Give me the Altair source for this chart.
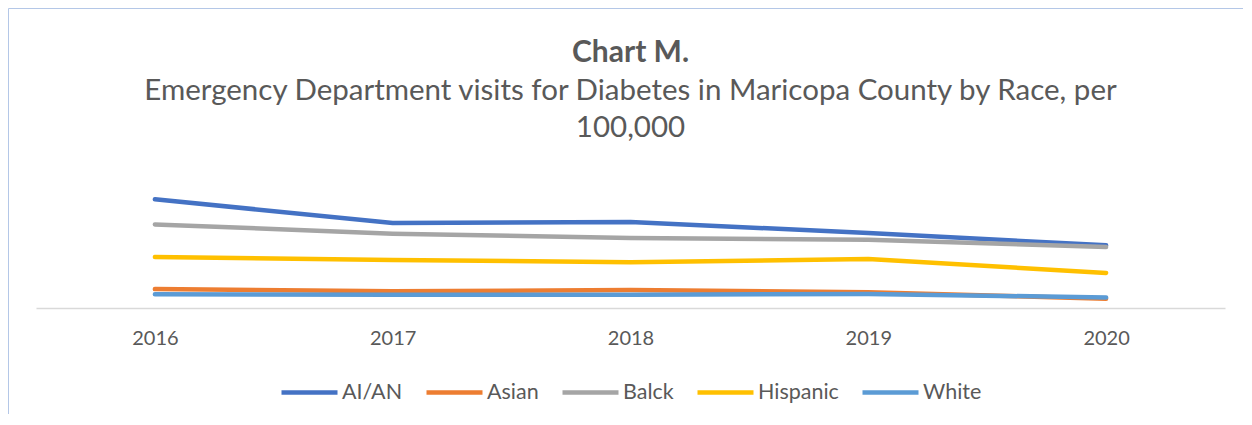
import altair as alt
import pandas as pd

years = ["2016", "2017", "2018", "2019", "2020"]
races = ["AI/AN", "Asian", "Balck", "Hispanic", "White"]
colors = ["#4472C4", "#ED7D31", "#A5A5A5", "#FFC000", "#5B9BD5"]

ai_an = [645, 504, 510, 445, 372]
asian = [112, 99, 107, 93, 55]
balck = [496, 441, 415, 405, 362]
hispanic = [303, 285, 271, 291, 208]
white = [82, 79, 79, 83, 63]

series = {"AI/AN": ai_an, "Asian": asian, "Balck": balck, "Hispanic": hispanic, "White": white}
rows = []
for r in races:
    for y, v in zip(years, series[r]):
        rows.append({"Year": y, "Race": r, "Rate": v})
df = pd.DataFrame(rows)

W, H = 1189, 118
FONT = "Lato"
GREY = "#595959"

lines = alt.Chart(df).mark_line(strokeWidth=4.5, strokeCap="round", strokeJoin="round").encode(
    x=alt.X("Year:O", sort=years, scale=alt.Scale(type="point", padding=0.5),
            axis=alt.Axis(title=None, labelAngle=0, ticks=False, labelPadding=20,
                          labelFontSize=20, labelColor=GREY, labelFont=FONT,
                          domainColor="#D9D9D9", domainWidth=1.5)),
    y=alt.Y("Rate:Q", scale=alt.Scale(domain=[0, 700]), axis=None),
    color=alt.Color("Race:N", sort=races,
                    scale=alt.Scale(domain=races, range=colors),
                    legend=alt.Legend(title=None, orient="none", legendX=243, legendY=172,
                                      direction="horizontal", padding=0,
                                      columns=5, symbolType="stroke", symbolSize=3136,
                                      symbolStrokeWidth=4.5, labelFontSize=21.5,
                                      labelColor=GREY, labelFont=FONT, labelOffset=2,
                                      columnPadding=14)),
)

border_df = pd.DataFrame({"a": [0]})
top_border = alt.Chart(border_df).mark_rule(color="#B4C7E7", strokeWidth=1).encode(
    x=alt.value(-27.5), x2=alt.value(W + 18), y=alt.value(-181.5))
left_border = alt.Chart(border_df).mark_rule(color="#B4C7E7", strokeWidth=1).encode(
    x=alt.value(-27.5), y=alt.value(-181.5), y2=alt.value(H + 106))

chart = alt.layer(top_border, left_border, lines).properties(
    width=W, height=H,
    padding=0,
    title=alt.TitleParams(
        text="Chart M.",
        subtitle=["Emergency Department visits for Diabetes in Maricopa County by Race, per", "100,000"],
        anchor="middle", frame="group", font=FONT, fontSize=30, fontWeight="bold",
        color=GREY, subtitleFont=FONT, subtitleFontSize=29.5, subtitleColor=GREY,
        subtitleLineHeight=37, subtitlePadding=9, offset=-134),
).configure_view(stroke=None)

chart.save("out.html", embed_options={"renderer": "svg", "actions": False})
